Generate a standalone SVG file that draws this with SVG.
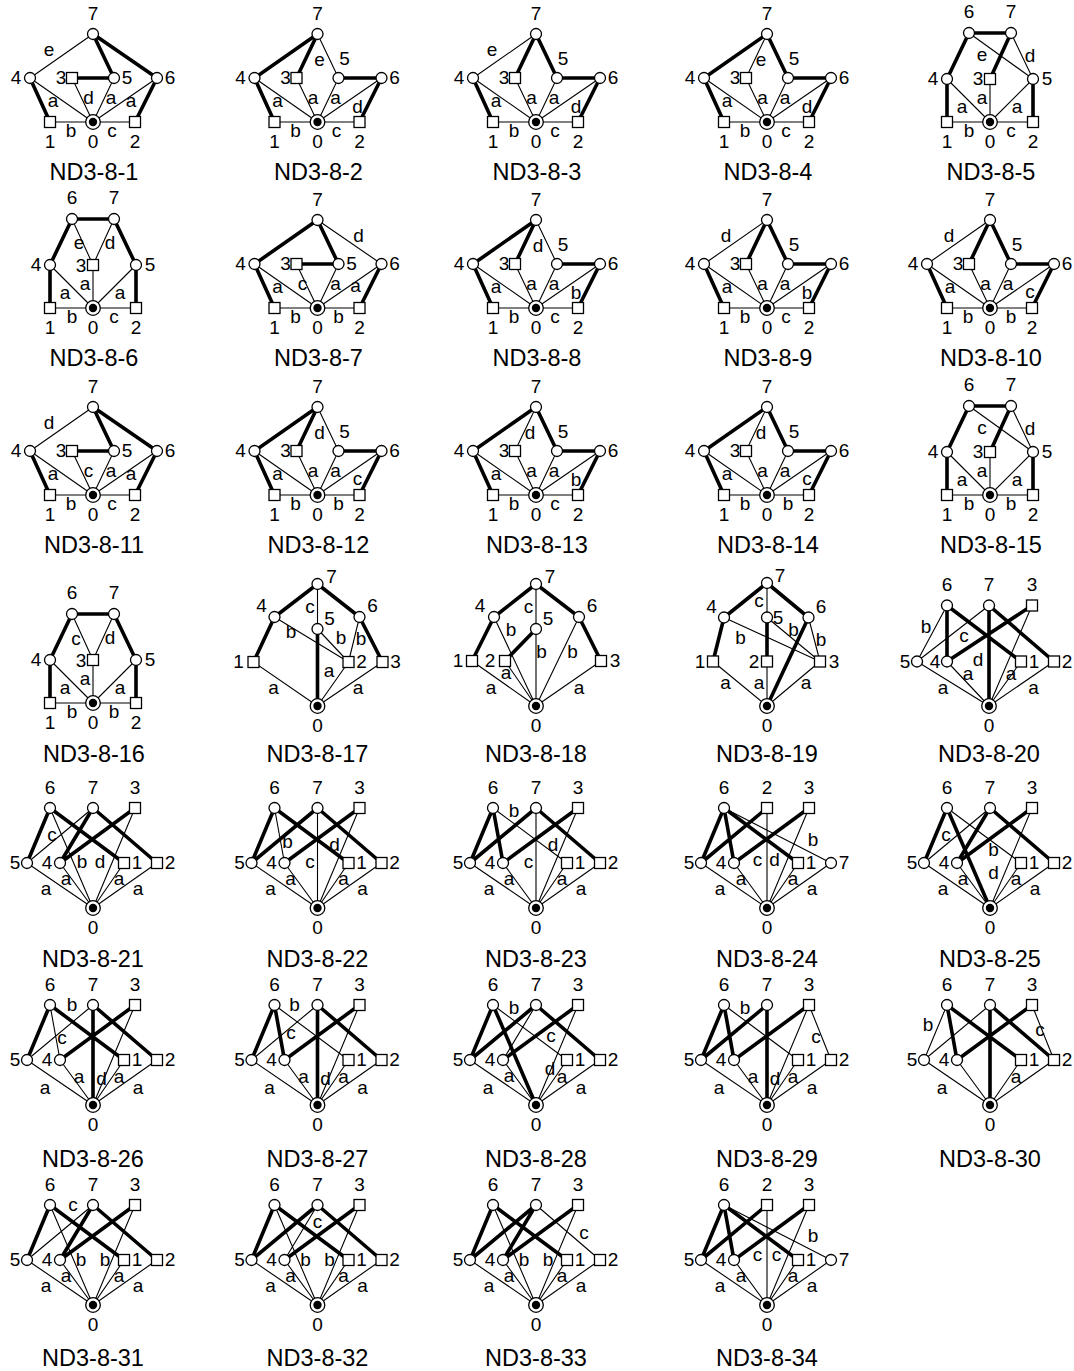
<svg xmlns="http://www.w3.org/2000/svg" width="1074" height="1371" viewBox="0 0 1074 1371">
<style>
.t{fill:none;stroke:#000;stroke-width:1.1}
.k{fill:none;stroke:#000;stroke-width:3.6}
.n{fill:#fff;stroke:#000;stroke-width:1.3}
text{font-family:"Liberation Sans",Arial,Helvetica,sans-serif;font-size:19px;text-anchor:middle;fill:#000}
text.ttl{font-size:23.5px}
</style>
<defs>
<circle id="c" class="n" r="5.5"/>
<rect id="s" class="n" x="-5.5" y="-5.5" width="11" height="11"/>
<g id="r"><circle class="n" r="7.3"/><circle r="4.2" fill="#000"/></g>
</defs>
<rect width="1074" height="1371" fill="#fff"/>

<!-- G1 -->
<g id="g1" transform="translate(93,122)">
<g id="g1-edges"><path class="t" d="M0-88L-63-44M-63-44L0 0M-21-44L0 0M21-44L0 0M64-44L0 0M-43 0L42 0"/><path class="k" d="M0-88L21-44M0-88L64-44M-21-44L21-44M-63-44L-43 0M64-44L42 0"/></g>
<g><text x="-44" y="-66.5">e</text><text x="-40" y="-15">a</text><text x="-4.5" y="-18">d</text><text x="18" y="-18">a</text><text x="38" y="-15">a</text><text x="-22" y="15">b</text><text x="19" y="15">c</text></g>
<g id="n1-0"><use href="#r"/><text y="26">0</text></g>
<g id="n1-1"><use href="#s" x="-43"/><text x="-43" y="26">1</text></g>
<g id="n1-2"><use href="#s" x="42"/><text x="42" y="26">2</text></g>
<g id="n1-3"><use href="#s" x="-21" y="-44"/><text x="-32" y="-38">3</text></g>
<g id="n1-4"><use href="#c" x="-63" y="-44"/><text x="-77" y="-38">4</text></g>
<g id="n1-5"><use href="#c" x="21" y="-44"/><text x="34" y="-38">5</text></g>
<g id="n1-6"><use href="#c" x="64" y="-44"/><text x="77" y="-38">6</text></g>
<g id="n1-7"><use href="#c" y="-88"/><text y="-102">7</text></g>
<text class="ttl" x="1" y="58">ND3-8-1</text>
</g>

<!-- G2 -->
<g id="g2" transform="translate(317.5,122)">
<g id="g2-edges"><path class="t" d="M0-88L21-44M-63-44L0 0M-21-44L0 0M21-44L0 0M64-44L0 0M-43 0L42 0"/><path class="k" d="M0-88L-63-44M0-88L-21-44M21-44L64-44M-63-44L-43 0M64-44L42 0"/></g>
<g><text x="2" y="-56">e</text><text x="-40" y="-15">a</text><text x="-4.5" y="-18">a</text><text x="18" y="-18">a</text><text x="40" y="-9">d</text><text x="-22" y="15">b</text><text x="19" y="15">c</text></g>
<g id="n2-0"><use href="#r"/><text y="26">0</text></g>
<g id="n2-1"><use href="#s" x="-43"/><text x="-43" y="26">1</text></g>
<g id="n2-2"><use href="#s" x="42"/><text x="42" y="26">2</text></g>
<g id="n2-3"><use href="#s" x="-21" y="-44"/><text x="-32" y="-38">3</text></g>
<g id="n2-4"><use href="#c" x="-63" y="-44"/><text x="-77" y="-38">4</text></g>
<g id="n2-5"><use href="#c" x="21" y="-44"/><text x="27" y="-57">5</text></g>
<g id="n2-6"><use href="#c" x="64" y="-44"/><text x="77" y="-38">6</text></g>
<g id="n2-7"><use href="#c" y="-88"/><text y="-102">7</text></g>
<text class="ttl" x="1" y="58">ND3-8-2</text>
</g>

<!-- G3 -->
<g id="g3" transform="translate(536,122)">
<g id="g3-edges"><path class="t" d="M0-88L-63-44M-63-44L0 0M-21-44L0 0M21-44L0 0M64-44L0 0M-43 0L42 0"/><path class="k" d="M0-88L-21-44M0-88L21-44M21-44L64-44M-63-44L-43 0M64-44L42 0"/></g>
<g><text x="-44" y="-66.5">e</text><text x="-40" y="-15">a</text><text x="-4.5" y="-18">a</text><text x="18" y="-18">a</text><text x="40" y="-9">d</text><text x="-22" y="15">b</text><text x="19" y="15">c</text></g>
<g id="n3-0"><use href="#r"/><text y="26">0</text></g>
<g id="n3-1"><use href="#s" x="-43"/><text x="-43" y="26">1</text></g>
<g id="n3-2"><use href="#s" x="42"/><text x="42" y="26">2</text></g>
<g id="n3-3"><use href="#s" x="-21" y="-44"/><text x="-32" y="-38">3</text></g>
<g id="n3-4"><use href="#c" x="-63" y="-44"/><text x="-77" y="-38">4</text></g>
<g id="n3-5"><use href="#c" x="21" y="-44"/><text x="27" y="-57">5</text></g>
<g id="n3-6"><use href="#c" x="64" y="-44"/><text x="77" y="-38">6</text></g>
<g id="n3-7"><use href="#c" y="-88"/><text y="-102">7</text></g>
<text class="ttl" x="1" y="58">ND3-8-3</text>
</g>

<!-- G4 -->
<g id="g4" transform="translate(767,122)">
<g id="g4-edges"><path class="t" d="M0-88L-21-44M-63-44L0 0M-21-44L0 0M21-44L0 0M64-44L0 0M-43 0L42 0"/><path class="k" d="M0-88L-63-44M0-88L21-44M21-44L64-44M-63-44L-43 0M64-44L42 0"/></g>
<g><text x="-6" y="-56">e</text><text x="-40" y="-15">a</text><text x="-4.5" y="-18">a</text><text x="18" y="-18">a</text><text x="40" y="-9">d</text><text x="-22" y="15">b</text><text x="19" y="15">c</text></g>
<g id="n4-0"><use href="#r"/><text y="26">0</text></g>
<g id="n4-1"><use href="#s" x="-43"/><text x="-43" y="26">1</text></g>
<g id="n4-2"><use href="#s" x="42"/><text x="42" y="26">2</text></g>
<g id="n4-3"><use href="#s" x="-21" y="-44"/><text x="-32" y="-38">3</text></g>
<g id="n4-4"><use href="#c" x="-63" y="-44"/><text x="-77" y="-38">4</text></g>
<g id="n4-5"><use href="#c" x="21" y="-44"/><text x="27" y="-57">5</text></g>
<g id="n4-6"><use href="#c" x="64" y="-44"/><text x="77" y="-38">6</text></g>
<g id="n4-7"><use href="#c" y="-88"/><text y="-102">7</text></g>
<text class="ttl" x="1" y="58">ND3-8-4</text>
</g>

<!-- G5 -->
<g id="g5" transform="translate(990,122)">
<g id="g5-edges"><path class="t" d="M-21-89L43-43M21-89L43-43M-43-43L0 0M0-43L0 0M43-43L0 0M-43 0L43 0"/><path class="k" d="M-21-89L21-89M-21-89L-43-43M21-89L0-43M-43-43L-43 0M43-43L43 0"/></g>
<g><text x="-8" y="-61.5">e</text><text x="40" y="-60">d</text><text x="-28" y="-9.5">a</text><text x="-8" y="-18">a</text><text x="27" y="-9.5">a</text><text x="-21" y="15">b</text><text x="21" y="15">c</text></g>
<g id="n5-0"><use href="#r"/><text y="26">0</text></g>
<g id="n5-1"><use href="#s" x="-43"/><text x="-43" y="26">1</text></g>
<g id="n5-2"><use href="#s" x="43"/><text x="43" y="26">2</text></g>
<g id="n5-3"><use href="#s" y="-43"/><text x="-12" y="-37">3</text></g>
<g id="n5-4"><use href="#c" x="-43" y="-43"/><text x="-57" y="-37">4</text></g>
<g id="n5-5"><use href="#c" x="43" y="-43"/><text x="57" y="-37">5</text></g>
<g id="n5-6"><use href="#c" x="-21" y="-89"/><text x="-21" y="-104">6</text></g>
<g id="n5-7"><use href="#c" x="21" y="-89"/><text x="21" y="-104">7</text></g>
<text class="ttl" x="1" y="58">ND3-8-5</text>
</g>

<!-- G6 -->
<g id="g6" transform="translate(93,308)">
<g id="g6-edges"><path class="t" d="M-21-89L0-43M21-89L0-43M-43-43L0 0M0-43L0 0M43-43L0 0M-43 0L43 0"/><path class="k" d="M-21-89L21-89M-21-89L-43-43M21-89L43-43M-43-43L-43 0M43-43L43 0"/></g>
<g><text x="-14" y="-59">e</text><text x="17" y="-59">d</text><text x="-28" y="-9.5">a</text><text x="-8" y="-18">a</text><text x="27" y="-9.5">a</text><text x="-21" y="15">b</text><text x="21" y="15">c</text></g>
<g id="n6-0"><use href="#r"/><text y="26">0</text></g>
<g id="n6-1"><use href="#s" x="-43"/><text x="-43" y="26">1</text></g>
<g id="n6-2"><use href="#s" x="43"/><text x="43" y="26">2</text></g>
<g id="n6-3"><use href="#s" y="-43"/><text x="-12" y="-36">3</text></g>
<g id="n6-4"><use href="#c" x="-43" y="-43"/><text x="-57" y="-37">4</text></g>
<g id="n6-5"><use href="#c" x="43" y="-43"/><text x="57" y="-37">5</text></g>
<g id="n6-6"><use href="#c" x="-21" y="-89"/><text x="-21" y="-104">6</text></g>
<g id="n6-7"><use href="#c" x="21" y="-89"/><text x="21" y="-104">7</text></g>
<text class="ttl" x="1" y="58">ND3-8-6</text>
</g>

<!-- G7 -->
<g id="g7" transform="translate(317.5,308)">
<g id="g7-edges"><path class="t" d="M0-88L64-44M-63-44L0 0M-21-44L0 0M21-44L0 0M64-44L0 0M-43 0L42 0"/><path class="k" d="M0-88L-63-44M0-88L21-44M-21-44L21-44M-63-44L-43 0M64-44L42 0"/></g>
<g><text x="41" y="-66.5">d</text><text x="-40" y="-15">a</text><text x="-15" y="-18">c</text><text x="18" y="-18">a</text><text x="38" y="-16">a</text><text x="-22" y="15">b</text><text x="21" y="15">b</text></g>
<g id="n7-0"><use href="#r"/><text y="26">0</text></g>
<g id="n7-1"><use href="#s" x="-43"/><text x="-43" y="26">1</text></g>
<g id="n7-2"><use href="#s" x="42"/><text x="42" y="26">2</text></g>
<g id="n7-3"><use href="#s" x="-21" y="-44"/><text x="-32" y="-38">3</text></g>
<g id="n7-4"><use href="#c" x="-63" y="-44"/><text x="-77" y="-38">4</text></g>
<g id="n7-5"><use href="#c" x="21" y="-44"/><text x="34" y="-38">5</text></g>
<g id="n7-6"><use href="#c" x="64" y="-44"/><text x="77" y="-38">6</text></g>
<g id="n7-7"><use href="#c" y="-88"/><text y="-102">7</text></g>
<text class="ttl" x="1" y="58">ND3-8-7</text>
</g>

<!-- G8 -->
<g id="g8" transform="translate(536,308)">
<g id="g8-edges"><path class="t" d="M0-88L21-44M-63-44L0 0M-21-44L0 0M21-44L0 0M64-44L0 0M-43 0L42 0"/><path class="k" d="M0-88L-63-44M0-88L-21-44M21-44L64-44M-63-44L-43 0M64-44L42 0"/></g>
<g><text x="2" y="-56">d</text><text x="-40" y="-15">a</text><text x="-4.5" y="-18">a</text><text x="18" y="-18">a</text><text x="40" y="-9">b</text><text x="-22" y="15">b</text><text x="19" y="15">c</text></g>
<g id="n8-0"><use href="#r"/><text y="26">0</text></g>
<g id="n8-1"><use href="#s" x="-43"/><text x="-43" y="26">1</text></g>
<g id="n8-2"><use href="#s" x="42"/><text x="42" y="26">2</text></g>
<g id="n8-3"><use href="#s" x="-21" y="-44"/><text x="-32" y="-38">3</text></g>
<g id="n8-4"><use href="#c" x="-63" y="-44"/><text x="-77" y="-38">4</text></g>
<g id="n8-5"><use href="#c" x="21" y="-44"/><text x="27" y="-57">5</text></g>
<g id="n8-6"><use href="#c" x="64" y="-44"/><text x="77" y="-38">6</text></g>
<g id="n8-7"><use href="#c" y="-88"/><text y="-102">7</text></g>
<text class="ttl" x="1" y="58">ND3-8-8</text>
</g>

<!-- G9 -->
<g id="g9" transform="translate(767,308)">
<g id="g9-edges"><path class="t" d="M0-88L-63-44M-63-44L0 0M-21-44L0 0M21-44L0 0M64-44L0 0M-43 0L42 0"/><path class="k" d="M0-88L-21-44M0-88L21-44M21-44L64-44M-63-44L-43 0M64-44L42 0"/></g>
<g><text x="-41" y="-66.5">d</text><text x="-40" y="-15">a</text><text x="-4.5" y="-18">a</text><text x="18" y="-18">a</text><text x="40" y="-9">b</text><text x="-22" y="15">b</text><text x="19" y="15">c</text></g>
<g id="n9-0"><use href="#r"/><text y="26">0</text></g>
<g id="n9-1"><use href="#s" x="-43"/><text x="-43" y="26">1</text></g>
<g id="n9-2"><use href="#s" x="42"/><text x="42" y="26">2</text></g>
<g id="n9-3"><use href="#s" x="-21" y="-44"/><text x="-32" y="-38">3</text></g>
<g id="n9-4"><use href="#c" x="-63" y="-44"/><text x="-77" y="-38">4</text></g>
<g id="n9-5"><use href="#c" x="21" y="-44"/><text x="27" y="-57">5</text></g>
<g id="n9-6"><use href="#c" x="64" y="-44"/><text x="77" y="-38">6</text></g>
<g id="n9-7"><use href="#c" y="-88"/><text y="-102">7</text></g>
<text class="ttl" x="1" y="58">ND3-8-9</text>
</g>

<!-- G10 -->
<g id="g10" transform="translate(990,308)">
<g id="g10-edges"><path class="t" d="M0-88L-63-44M-63-44L0 0M-21-44L0 0M21-44L0 0M64-44L0 0M-43 0L42 0"/><path class="k" d="M0-88L-21-44M0-88L21-44M21-44L64-44M-63-44L-43 0M64-44L42 0"/></g>
<g><text x="-41" y="-66.5">d</text><text x="-40" y="-15">a</text><text x="-4.5" y="-18">a</text><text x="18" y="-18">a</text><text x="40" y="-10">c</text><text x="-22" y="15">b</text><text x="21" y="15">b</text></g>
<g id="n10-0"><use href="#r"/><text y="26">0</text></g>
<g id="n10-1"><use href="#s" x="-43"/><text x="-43" y="26">1</text></g>
<g id="n10-2"><use href="#s" x="42"/><text x="42" y="26">2</text></g>
<g id="n10-3"><use href="#s" x="-21" y="-44"/><text x="-32" y="-38">3</text></g>
<g id="n10-4"><use href="#c" x="-63" y="-44"/><text x="-77" y="-38">4</text></g>
<g id="n10-5"><use href="#c" x="21" y="-44"/><text x="27" y="-57">5</text></g>
<g id="n10-6"><use href="#c" x="64" y="-44"/><text x="77" y="-38">6</text></g>
<g id="n10-7"><use href="#c" y="-88"/><text y="-102">7</text></g>
<text class="ttl" x="1" y="58">ND3-8-10</text>
</g>

<!-- G11 -->
<g id="g11" transform="translate(93,495)">
<g id="g11-edges"><path class="t" d="M0-88L-63-44M-63-44L0 0M-21-44L0 0M21-44L0 0M64-44L0 0M-43 0L42 0"/><path class="k" d="M0-88L21-44M0-88L64-44M-21-44L21-44M-63-44L-43 0M64-44L42 0"/></g>
<g><text x="-44" y="-66.5">d</text><text x="-40" y="-15">a</text><text x="-4.5" y="-18">c</text><text x="18" y="-18">a</text><text x="38" y="-15">a</text><text x="-22" y="15">b</text><text x="19" y="15">c</text></g>
<g id="n11-0"><use href="#r"/><text y="26">0</text></g>
<g id="n11-1"><use href="#s" x="-43"/><text x="-43" y="26">1</text></g>
<g id="n11-2"><use href="#s" x="42"/><text x="42" y="26">2</text></g>
<g id="n11-3"><use href="#s" x="-21" y="-44"/><text x="-32" y="-38">3</text></g>
<g id="n11-4"><use href="#c" x="-63" y="-44"/><text x="-77" y="-38">4</text></g>
<g id="n11-5"><use href="#c" x="21" y="-44"/><text x="34" y="-38">5</text></g>
<g id="n11-6"><use href="#c" x="64" y="-44"/><text x="77" y="-38">6</text></g>
<g id="n11-7"><use href="#c" y="-88"/><text y="-102">7</text></g>
<text class="ttl" x="1" y="58">ND3-8-11</text>
</g>

<!-- G12 -->
<g id="g12" transform="translate(317.5,495)">
<g id="g12-edges"><path class="t" d="M0-88L21-44M-63-44L0 0M-21-44L0 0M21-44L0 0M64-44L0 0M-43 0L42 0"/><path class="k" d="M0-88L-63-44M0-88L-21-44M21-44L64-44M-63-44L-43 0M64-44L42 0"/></g>
<g><text x="2" y="-56">d</text><text x="-40" y="-15">a</text><text x="-4.5" y="-18">a</text><text x="18" y="-18">a</text><text x="40" y="-10">c</text><text x="-22" y="15">b</text><text x="21" y="15">b</text></g>
<g id="n12-0"><use href="#r"/><text y="26">0</text></g>
<g id="n12-1"><use href="#s" x="-43"/><text x="-43" y="26">1</text></g>
<g id="n12-2"><use href="#s" x="42"/><text x="42" y="26">2</text></g>
<g id="n12-3"><use href="#s" x="-21" y="-44"/><text x="-32" y="-38">3</text></g>
<g id="n12-4"><use href="#c" x="-63" y="-44"/><text x="-77" y="-38">4</text></g>
<g id="n12-5"><use href="#c" x="21" y="-44"/><text x="27" y="-57">5</text></g>
<g id="n12-6"><use href="#c" x="64" y="-44"/><text x="77" y="-38">6</text></g>
<g id="n12-7"><use href="#c" y="-88"/><text y="-102">7</text></g>
<text class="ttl" x="1" y="58">ND3-8-12</text>
</g>

<!-- G13 -->
<g id="g13" transform="translate(536,495)">
<g id="g13-edges"><path class="t" d="M0-88L-21-44M-63-44L0 0M-21-44L0 0M21-44L0 0M64-44L0 0M-43 0L42 0"/><path class="k" d="M0-88L-63-44M0-88L21-44M21-44L64-44M-63-44L-43 0M64-44L42 0"/></g>
<g><text x="-6" y="-56">d</text><text x="-40" y="-15">a</text><text x="-4.5" y="-18">a</text><text x="18" y="-18">a</text><text x="40" y="-9">b</text><text x="-22" y="15">b</text><text x="19" y="15">c</text></g>
<g id="n13-0"><use href="#r"/><text y="26">0</text></g>
<g id="n13-1"><use href="#s" x="-43"/><text x="-43" y="26">1</text></g>
<g id="n13-2"><use href="#s" x="42"/><text x="42" y="26">2</text></g>
<g id="n13-3"><use href="#s" x="-21" y="-44"/><text x="-32" y="-38">3</text></g>
<g id="n13-4"><use href="#c" x="-63" y="-44"/><text x="-77" y="-38">4</text></g>
<g id="n13-5"><use href="#c" x="21" y="-44"/><text x="27" y="-57">5</text></g>
<g id="n13-6"><use href="#c" x="64" y="-44"/><text x="77" y="-38">6</text></g>
<g id="n13-7"><use href="#c" y="-88"/><text y="-102">7</text></g>
<text class="ttl" x="1" y="58">ND3-8-13</text>
</g>

<!-- G14 -->
<g id="g14" transform="translate(767,495)">
<g id="g14-edges"><path class="t" d="M0-88L-21-44M-63-44L0 0M-21-44L0 0M21-44L0 0M64-44L0 0M-43 0L42 0"/><path class="k" d="M0-88L-63-44M0-88L21-44M21-44L64-44M-63-44L-43 0M64-44L42 0"/></g>
<g><text x="-6" y="-56">d</text><text x="-40" y="-15">a</text><text x="-4.5" y="-18">a</text><text x="18" y="-18">a</text><text x="40" y="-10">c</text><text x="-22" y="15">b</text><text x="21" y="15">b</text></g>
<g id="n14-0"><use href="#r"/><text y="26">0</text></g>
<g id="n14-1"><use href="#s" x="-43"/><text x="-43" y="26">1</text></g>
<g id="n14-2"><use href="#s" x="42"/><text x="42" y="26">2</text></g>
<g id="n14-3"><use href="#s" x="-21" y="-44"/><text x="-32" y="-38">3</text></g>
<g id="n14-4"><use href="#c" x="-63" y="-44"/><text x="-77" y="-38">4</text></g>
<g id="n14-5"><use href="#c" x="21" y="-44"/><text x="27" y="-57">5</text></g>
<g id="n14-6"><use href="#c" x="64" y="-44"/><text x="77" y="-38">6</text></g>
<g id="n14-7"><use href="#c" y="-88"/><text y="-102">7</text></g>
<text class="ttl" x="1" y="58">ND3-8-14</text>
</g>

<!-- G15 -->
<g id="g15" transform="translate(990,495)">
<g id="g15-edges"><path class="t" d="M-21-89L43-43M21-89L43-43M-43-43L0 0M0-43L0 0M43-43L0 0M-43 0L43 0"/><path class="k" d="M-21-89L21-89M-21-89L-43-43M21-89L0-43M-43-43L-43 0M43-43L43 0"/></g>
<g><text x="-8" y="-61.5">c</text><text x="40" y="-60">d</text><text x="-28" y="-9.5">a</text><text x="-8" y="-18">a</text><text x="27" y="-9.5">a</text><text x="-21" y="15">b</text><text x="21" y="15">b</text></g>
<g id="n15-0"><use href="#r"/><text y="26">0</text></g>
<g id="n15-1"><use href="#s" x="-43"/><text x="-43" y="26">1</text></g>
<g id="n15-2"><use href="#s" x="43"/><text x="43" y="26">2</text></g>
<g id="n15-3"><use href="#s" y="-43"/><text x="-12" y="-37">3</text></g>
<g id="n15-4"><use href="#c" x="-43" y="-43"/><text x="-57" y="-37">4</text></g>
<g id="n15-5"><use href="#c" x="43" y="-43"/><text x="57" y="-37">5</text></g>
<g id="n15-6"><use href="#c" x="-21" y="-89"/><text x="-21" y="-104">6</text></g>
<g id="n15-7"><use href="#c" x="21" y="-89"/><text x="21" y="-104">7</text></g>
<text class="ttl" x="1" y="58">ND3-8-15</text>
</g>

<!-- G16 -->
<g id="g16" transform="translate(93,703)">
<g id="g16-edges"><path class="t" d="M-21-89L0-43M21-89L0-43M-43-43L0 0M0-43L0 0M43-43L0 0M-43 0L43 0"/><path class="k" d="M-21-89L21-89M-21-89L-43-43M21-89L43-43M-43-43L-43 0M43-43L43 0"/></g>
<g><text x="-17" y="-58">c</text><text x="17" y="-59">d</text><text x="-28" y="-9.5">a</text><text x="-8" y="-18">a</text><text x="27" y="-9.5">a</text><text x="-21" y="15">b</text><text x="21" y="15">b</text></g>
<g id="n16-0"><use href="#r"/><text y="26">0</text></g>
<g id="n16-1"><use href="#s" x="-43"/><text x="-43" y="26">1</text></g>
<g id="n16-2"><use href="#s" x="43"/><text x="43" y="26">2</text></g>
<g id="n16-3"><use href="#s" y="-43"/><text x="-12" y="-36">3</text></g>
<g id="n16-4"><use href="#c" x="-43" y="-43"/><text x="-57" y="-37">4</text></g>
<g id="n16-5"><use href="#c" x="43" y="-43"/><text x="57" y="-37">5</text></g>
<g id="n16-6"><use href="#c" x="-21" y="-89"/><text x="-21" y="-104">6</text></g>
<g id="n16-7"><use href="#c" x="21" y="-89"/><text x="21" y="-104">7</text></g>
<text class="ttl" x="1" y="59">ND3-8-16</text>
</g>

<!-- G17 -->
<g id="g17" transform="translate(317.5,706)">
<g id="g17-edges"><path class="t" d="M0-122L0-77M-43-89L31-44M0-77L31-44M42-89L31-44M-64-44L0 0M31-44L0 0M65-44L0 0"/><path class="k" d="M0-122L-43-89M0-122L42-89M-43-89L-64-44M42-89L65-44M0-77L0 0"/></g>
<g><text x="-7.5" y="-93">c</text><text x="-26.5" y="-68">b</text><text x="23.5" y="-62.5">b</text><text x="43.5" y="-61">b</text><text x="11.5" y="-29.5">a</text><text x="-44" y="-12">a</text><text x="40.5" y="-12">a</text></g>
<g id="n17-0"><use href="#r"/><text y="26">0</text></g>
<g id="n17-1"><use href="#s" x="-64" y="-44"/><text x="-79" y="-38">1</text></g>
<g id="n17-2"><use href="#s" x="31" y="-44"/><text x="44" y="-38">2</text></g>
<g id="n17-3"><use href="#s" x="65" y="-44"/><text x="78" y="-38">3</text></g>
<g id="n17-4"><use href="#c" x="-43" y="-89"/><text x="-56" y="-94">4</text></g>
<g id="n17-5"><use href="#c" y="-77"/><text x="12" y="-81">5</text></g>
<g id="n17-6"><use href="#c" x="42" y="-89"/><text x="55" y="-94">6</text></g>
<g id="n17-7"><use href="#c" y="-122"/><text x="14" y="-123">7</text></g>
<text class="ttl" x="0" y="56">ND3-8-17</text>
</g>

<!-- G18 -->
<g id="g18" transform="translate(536,706)">
<g id="g18-edges"><path class="t" d="M0-122L0-77M-42-89L0 0M0-77L0 0M43-89L0 0M-64-45L0 0M-31-45L0 0M65-45L0 0"/><path class="k" d="M0-122L-42-89M0-122L43-89M-42-89L-64-45M0-77L-31-45M43-89L65-45"/></g>
<g><text x="-7.5" y="-93">c</text><text x="-25" y="-70">b</text><text x="5.5" y="-48.5">b</text><text x="36.5" y="-48.5">b</text><text x="-30" y="-27.5">a</text><text x="-45" y="-12">a</text><text x="43" y="-12">a</text></g>
<g id="n18-0"><use href="#r"/><text y="26">0</text></g>
<g id="n18-1"><use href="#s" x="-64" y="-45"/><text x="-78" y="-39">1</text></g>
<g id="n18-2"><use href="#s" x="-31" y="-45"/><text x="-46" y="-39">2</text></g>
<g id="n18-3"><use href="#s" x="65" y="-45"/><text x="79" y="-39">3</text></g>
<g id="n18-4"><use href="#c" x="-42" y="-89"/><text x="-56" y="-94">4</text></g>
<g id="n18-5"><use href="#c" y="-77"/><text x="12" y="-81">5</text></g>
<g id="n18-6"><use href="#c" x="43" y="-89"/><text x="56" y="-94">6</text></g>
<g id="n18-7"><use href="#c" y="-122"/><text x="14" y="-123">7</text></g>
<text class="ttl" x="0" y="56">ND3-8-18</text>
</g>

<!-- G19 -->
<g id="g19" transform="translate(767,706)">
<g id="g19-edges"><path class="t" d="M0-123L0-88.5M-43-88.5L53-44.5M0-88.5L53-44.5M41.5-88.5L53-44.5M-54-44.5L0 0M0-44.5L0 0M53-44.5L0 0"/><path class="k" d="M0-123L-43-88.5M0-123L41.5-88.5M-43-88.5L-54-44.5M0-88.5L0-44.5M41.5-88.5L0 0"/></g>
<g><text x="-8" y="-99">c</text><text x="-26.5" y="-62.5">b</text><text x="26.5" y="-70.5">b</text><text x="54" y="-60.5">b</text><text x="-41.5" y="-17.5">a</text><text x="-8" y="-17.5">a</text><text x="39" y="-17.5">a</text></g>
<g id="n19-0"><use href="#r"/><text y="26">0</text></g>
<g id="n19-1"><use href="#s" x="-54" y="-44.5"/><text x="-67" y="-38.5">1</text></g>
<g id="n19-2"><use href="#s" y="-44.5"/><text x="-13" y="-38.5">2</text></g>
<g id="n19-3"><use href="#s" x="53" y="-44.5"/><text x="67" y="-38.5">3</text></g>
<g id="n19-4"><use href="#c" x="-43" y="-88.5"/><text x="-55.5" y="-93.5">4</text></g>
<g id="n19-5"><use href="#c" y="-88.5"/><text x="11" y="-82">5</text></g>
<g id="n19-6"><use href="#c" x="41.5" y="-88.5"/><text x="54" y="-93.5">6</text></g>
<g id="n19-7"><use href="#c" y="-123"/><text x="13" y="-124">7</text></g>
<text class="ttl" x="0" y="56">ND3-8-19</text>
</g>

<!-- G20 -->
<g id="g20" transform="translate(989,706)">
<g id="g20-edges"><path class="t" d="M-42-100.5L-72-44.5M0-100.5L-72-44.5M43-100.5L0 0M-72-44.5L0 0M-42-44.5L0 0M32-44.5L0 0M65-44.5L0 0"/><path class="k" d="M-42-100.5L-42-44.5M-42-100.5L32-44.5M0-100.5L0 0M0-100.5L65-44.5M43-100.5L-42-44.5"/></g>
<g><text x="-63" y="-73">b</text><text x="-25" y="-64">c</text><text x="-11" y="-40">d</text><text x="-46" y="-12">a</text><text x="-21" y="-26">a</text><text x="22" y="-26">a</text><text x="44.5" y="-12">a</text></g>
<g id="n20-0"><use href="#r"/><text y="26">0</text></g>
<g id="n20-1"><use href="#s" x="32" y="-44.5"/><text x="45" y="-38.5">1</text></g>
<g id="n20-2"><use href="#s" x="65" y="-44.5"/><text x="78" y="-38.5">2</text></g>
<g id="n20-3"><use href="#s" x="43" y="-100.5"/><text x="43" y="-115">3</text></g>
<g id="n20-4"><use href="#c" x="-42" y="-44.5"/><text x="-54" y="-38.5">4</text></g>
<g id="n20-5"><use href="#c" x="-72" y="-44.5"/><text x="-84" y="-38.5">5</text></g>
<g id="n20-6"><use href="#c" x="-42" y="-100.5"/><text x="-42" y="-115">6</text></g>
<g id="n20-7"><use href="#c" y="-100.5"/><text y="-115">7</text></g>
<text class="ttl" x="0" y="56">ND3-8-20</text>
</g>

<!-- G21 -->
<g id="g21" transform="translate(93,908)">
<g id="g21-edges"><path class="t" d="M-43-100L0 0M0-100L-66-45M42-100L0 0M-66-45L0 0M-33-45L0 0M31-45L0 0M64-45L0 0"/><path class="k" d="M-43-100L-66-45M-43-100L31-45M0-100L-33-45M0-100L64-45M42-100L-33-45"/></g>
<g><text x="-41" y="-67">c</text><text x="-11" y="-40">b</text><text x="7" y="-40">d</text><text x="-47" y="-13">a</text><text x="-27" y="-23">a</text><text x="26" y="-23">a</text><text x="45" y="-13">a</text></g>
<g id="n21-0"><use href="#r"/><text y="26">0</text></g>
<g id="n21-1"><use href="#s" x="31" y="-45"/><text x="44" y="-39">1</text></g>
<g id="n21-2"><use href="#s" x="64" y="-45"/><text x="77" y="-39">2</text></g>
<g id="n21-3"><use href="#s" x="42" y="-100"/><text x="42" y="-114">3</text></g>
<g id="n21-4"><use href="#c" x="-33" y="-45"/><text x="-46" y="-39">4</text></g>
<g id="n21-5"><use href="#c" x="-66" y="-45"/><text x="-78" y="-39">5</text></g>
<g id="n21-6"><use href="#c" x="-43" y="-100"/><text x="-43" y="-114">6</text></g>
<g id="n21-7"><use href="#c" y="-100"/><text y="-114">7</text></g>
<text class="ttl" x="0" y="59">ND3-8-21</text>
</g>

<!-- G22 -->
<g id="g22" transform="translate(317.5,908)">
<g id="g22-edges"><path class="t" d="M-43-100L-33-45M0-100L0 0M42-100L0 0M-66-45L0 0M-33-45L0 0M31-45L0 0M64-45L0 0"/><path class="k" d="M-43-100L-66-45M-43-100L31-45M0-100L-66-45M0-100L64-45M42-100L-33-45"/></g>
<g><text x="-30" y="-60">b</text><text x="-7.5" y="-40">c</text><text x="17" y="-57">d</text><text x="-47" y="-13">a</text><text x="-27" y="-23">a</text><text x="26" y="-23">a</text><text x="45" y="-13">a</text></g>
<g id="n22-0"><use href="#r"/><text y="26">0</text></g>
<g id="n22-1"><use href="#s" x="31" y="-45"/><text x="44" y="-39">1</text></g>
<g id="n22-2"><use href="#s" x="64" y="-45"/><text x="77" y="-39">2</text></g>
<g id="n22-3"><use href="#s" x="42" y="-100"/><text x="42" y="-114">3</text></g>
<g id="n22-4"><use href="#c" x="-33" y="-45"/><text x="-46" y="-39">4</text></g>
<g id="n22-5"><use href="#c" x="-66" y="-45"/><text x="-78" y="-39">5</text></g>
<g id="n22-6"><use href="#c" x="-43" y="-100"/><text x="-43" y="-114">6</text></g>
<g id="n22-7"><use href="#c" y="-100"/><text y="-114">7</text></g>
<text class="ttl" x="0" y="59">ND3-8-22</text>
</g>

<!-- G23 -->
<g id="g23" transform="translate(536,908)">
<g id="g23-edges"><path class="t" d="M-43-100L31-45M0-100L0 0M42-100L0 0M-66-45L0 0M-33-45L0 0M31-45L0 0M64-45L0 0"/><path class="k" d="M-43-100L-66-45M-43-100L-33-45M0-100L-66-45M0-100L64-45M42-100L-33-45"/></g>
<g><text x="-22" y="-91">b</text><text x="-7.5" y="-40">c</text><text x="17" y="-57">d</text><text x="-47" y="-13">a</text><text x="-27" y="-23">a</text><text x="26" y="-23">a</text><text x="45" y="-13">a</text></g>
<g id="n23-0"><use href="#r"/><text y="26">0</text></g>
<g id="n23-1"><use href="#s" x="31" y="-45"/><text x="44" y="-39">1</text></g>
<g id="n23-2"><use href="#s" x="64" y="-45"/><text x="77" y="-39">2</text></g>
<g id="n23-3"><use href="#s" x="42" y="-100"/><text x="42" y="-114">3</text></g>
<g id="n23-4"><use href="#c" x="-33" y="-45"/><text x="-46" y="-39">4</text></g>
<g id="n23-5"><use href="#c" x="-66" y="-45"/><text x="-78" y="-39">5</text></g>
<g id="n23-6"><use href="#c" x="-43" y="-100"/><text x="-43" y="-114">6</text></g>
<g id="n23-7"><use href="#c" y="-100"/><text y="-114">7</text></g>
<text class="ttl" x="0" y="59">ND3-8-23</text>
</g>

<!-- G24 -->
<g id="g24" transform="translate(767,908)">
<g id="g24-edges"><path class="t" d="M-43-100L64-45M0-100L0 0M42-100L0 0M-66-45L0 0M-33-45L0 0M31-45L0 0M64-45L0 0"/><path class="k" d="M-43-100L-66-45M-43-100L-33-45M-43-100L31-45M0-100L-66-45M42-100L-33-45"/></g>
<g><text x="46" y="-62">b</text><text x="-9.5" y="-42">c</text><text x="7.5" y="-42">d</text><text x="-47" y="-13">a</text><text x="-26" y="-23">a</text><text x="26" y="-23">a</text><text x="45" y="-13">a</text></g>
<g id="n24-0"><use href="#r"/><text y="26">0</text></g>
<g id="n24-1"><use href="#s" x="31" y="-45"/><text x="44" y="-39">1</text></g>
<g id="n24-2"><use href="#s" y="-100"/><text y="-114">2</text></g>
<g id="n24-3"><use href="#s" x="42" y="-100"/><text x="42" y="-114">3</text></g>
<g id="n24-4"><use href="#c" x="-33" y="-45"/><text x="-46" y="-39">4</text></g>
<g id="n24-5"><use href="#c" x="-66" y="-45"/><text x="-78" y="-39">5</text></g>
<g id="n24-6"><use href="#c" x="-43" y="-100"/><text x="-43" y="-114">6</text></g>
<g id="n24-7"><use href="#c" x="64" y="-45"/><text x="77" y="-39">7</text></g>
<text class="ttl" x="0" y="59">ND3-8-24</text>
</g>

<!-- G25 -->
<g id="g25" transform="translate(990,908)">
<g id="g25-edges"><path class="t" d="M-43-100L31-45M0-100L-66-45M42-100L0 0M-66-45L0 0M-33-45L0 0M31-45L0 0M64-45L0 0"/><path class="k" d="M-43-100L-66-45M-43-100L0 0M0-100L-33-45M0-100L64-45M42-100L-33-45"/></g>
<g><text x="-44" y="-67">c</text><text x="3.5" y="-52">b</text><text x="3.5" y="-29.5">d</text><text x="-47" y="-13">a</text><text x="-27" y="-23">a</text><text x="26" y="-23">a</text><text x="45" y="-13">a</text></g>
<g id="n25-0"><use href="#r"/><text y="26">0</text></g>
<g id="n25-1"><use href="#s" x="31" y="-45"/><text x="44" y="-39">1</text></g>
<g id="n25-2"><use href="#s" x="64" y="-45"/><text x="77" y="-39">2</text></g>
<g id="n25-3"><use href="#s" x="42" y="-100"/><text x="42" y="-114">3</text></g>
<g id="n25-4"><use href="#c" x="-33" y="-45"/><text x="-46" y="-39">4</text></g>
<g id="n25-5"><use href="#c" x="-66" y="-45"/><text x="-78" y="-39">5</text></g>
<g id="n25-6"><use href="#c" x="-43" y="-100"/><text x="-43" y="-114">6</text></g>
<g id="n25-7"><use href="#c" y="-100"/><text y="-114">7</text></g>
<text class="ttl" x="0" y="59">ND3-8-25</text>
</g>

<!-- G26 -->
<g id="g26" transform="translate(93,1105)">
<g id="g26-edges"><path class="t" d="M-43-100L-33-45M0-100L-66-45M42-100L0 0M-66-45L0 0M-33-45L0 0M31-45L0 0M64-45L0 0"/><path class="k" d="M-43-100L-66-45M-43-100L31-45M0-100L0 0M0-100L64-45M42-100L-33-45"/></g>
<g><text x="-21" y="-94">b</text><text x="-31" y="-61">c</text><text x="8.5" y="-20">d</text><text x="-48" y="-11">a</text><text x="-14" y="-22">a</text><text x="26" y="-22">a</text><text x="45" y="-11">a</text></g>
<g id="n26-0"><use href="#r"/><text y="26">0</text></g>
<g id="n26-1"><use href="#s" x="31" y="-45"/><text x="44" y="-39">1</text></g>
<g id="n26-2"><use href="#s" x="64" y="-45"/><text x="77" y="-39">2</text></g>
<g id="n26-3"><use href="#s" x="42" y="-100"/><text x="42" y="-114">3</text></g>
<g id="n26-4"><use href="#c" x="-33" y="-45"/><text x="-46" y="-39">4</text></g>
<g id="n26-5"><use href="#c" x="-66" y="-45"/><text x="-78" y="-39">5</text></g>
<g id="n26-6"><use href="#c" x="-43" y="-100"/><text x="-43" y="-114">6</text></g>
<g id="n26-7"><use href="#c" y="-100"/><text y="-114">7</text></g>
<text class="ttl" x="0" y="62">ND3-8-26</text>
</g>

<!-- G27 -->
<g id="g27" transform="translate(317.5,1105)">
<g id="g27-edges"><path class="t" d="M-43-100L31-45M0-100L-66-45M42-100L0 0M-66-45L0 0M-33-45L0 0M31-45L0 0M64-45L0 0"/><path class="k" d="M-43-100L-66-45M-43-100L-33-45M0-100L0 0M0-100L64-45M42-100L-33-45"/></g>
<g><text x="-23" y="-94">b</text><text x="-26.5" y="-66">c</text><text x="8" y="-20">d</text><text x="-48" y="-11">a</text><text x="-14" y="-22">a</text><text x="26" y="-22">a</text><text x="45" y="-11">a</text></g>
<g id="n27-0"><use href="#r"/><text y="26">0</text></g>
<g id="n27-1"><use href="#s" x="31" y="-45"/><text x="44" y="-39">1</text></g>
<g id="n27-2"><use href="#s" x="64" y="-45"/><text x="77" y="-39">2</text></g>
<g id="n27-3"><use href="#s" x="42" y="-100"/><text x="42" y="-114">3</text></g>
<g id="n27-4"><use href="#c" x="-33" y="-45"/><text x="-46" y="-39">4</text></g>
<g id="n27-5"><use href="#c" x="-66" y="-45"/><text x="-78" y="-39">5</text></g>
<g id="n27-6"><use href="#c" x="-43" y="-100"/><text x="-43" y="-114">6</text></g>
<g id="n27-7"><use href="#c" y="-100"/><text y="-114">7</text></g>
<text class="ttl" x="0" y="62">ND3-8-27</text>
</g>

<!-- G28 -->
<g id="g28" transform="translate(536,1105)">
<g id="g28-edges"><path class="t" d="M-43-100L31-45M0-100L-33-45M42-100L0 0M-66-45L0 0M-33-45L0 0M31-45L0 0M64-45L0 0"/><path class="k" d="M-43-100L-66-45M-43-100L0 0M0-100L-66-45M0-100L64-45M42-100L-33-45"/></g>
<g><text x="-22" y="-91">b</text><text x="15" y="-63">c</text><text x="14" y="-30">d</text><text x="-48" y="-11">a</text><text x="-27" y="-23">a</text><text x="26" y="-22">a</text><text x="45" y="-11">a</text></g>
<g id="n28-0"><use href="#r"/><text y="26">0</text></g>
<g id="n28-1"><use href="#s" x="31" y="-45"/><text x="44" y="-39">1</text></g>
<g id="n28-2"><use href="#s" x="64" y="-45"/><text x="77" y="-39">2</text></g>
<g id="n28-3"><use href="#s" x="42" y="-100"/><text x="42" y="-114">3</text></g>
<g id="n28-4"><use href="#c" x="-33" y="-45"/><text x="-46" y="-39">4</text></g>
<g id="n28-5"><use href="#c" x="-66" y="-45"/><text x="-78" y="-39">5</text></g>
<g id="n28-6"><use href="#c" x="-43" y="-100"/><text x="-43" y="-114">6</text></g>
<g id="n28-7"><use href="#c" y="-100"/><text y="-114">7</text></g>
<text class="ttl" x="0" y="62">ND3-8-28</text>
</g>

<!-- G29 -->
<g id="g29" transform="translate(767,1105)">
<g id="g29-edges"><path class="t" d="M-43-100L31-45M42-100L64-45M42-100L0 0M-66-45L0 0M-33-45L0 0M31-45L0 0M64-45L0 0"/><path class="k" d="M-43-100L-66-45M-43-100L-33-45M0-100L0 0M0-100L-66-45M42-100L-33-45"/></g>
<g><text x="-22" y="-91">b</text><text x="49" y="-62">c</text><text x="8" y="-20">d</text><text x="-48" y="-11">a</text><text x="-14" y="-22">a</text><text x="26" y="-22">a</text><text x="45" y="-11">a</text></g>
<g id="n29-0"><use href="#r"/><text y="26">0</text></g>
<g id="n29-1"><use href="#s" x="31" y="-45"/><text x="44" y="-39">1</text></g>
<g id="n29-2"><use href="#s" x="64" y="-45"/><text x="77" y="-39">2</text></g>
<g id="n29-3"><use href="#s" x="42" y="-100"/><text x="42" y="-114">3</text></g>
<g id="n29-4"><use href="#c" x="-33" y="-45"/><text x="-46" y="-39">4</text></g>
<g id="n29-5"><use href="#c" x="-66" y="-45"/><text x="-78" y="-39">5</text></g>
<g id="n29-6"><use href="#c" x="-43" y="-100"/><text x="-43" y="-114">6</text></g>
<g id="n29-7"><use href="#c" y="-100"/><text y="-114">7</text></g>
<text class="ttl" x="0" y="62">ND3-8-29</text>
</g>

<!-- G30 -->
<g id="g30" transform="translate(990,1105)">
<g id="g30-edges"><path class="t" d="M-43-100L-66-45M0-100L-66-45M42-100L64-45M-66-45L0 0M-33-45L0 0M31-45L0 0M64-45L0 0"/><path class="k" d="M-43-100L-33-45M-43-100L31-45M0-100L0 0M0-100L64-45M42-100L-33-45"/></g>
<g><text x="-62" y="-74">b</text><text x="50" y="-69">c</text><text x="-48" y="-11">a</text><text x="26" y="-22">a</text></g>
<g id="n30-0"><use href="#r"/><text y="26">0</text></g>
<g id="n30-1"><use href="#s" x="31" y="-45"/><text x="44" y="-39">1</text></g>
<g id="n30-2"><use href="#s" x="64" y="-45"/><text x="77" y="-39">2</text></g>
<g id="n30-3"><use href="#s" x="42" y="-100"/><text x="42" y="-114">3</text></g>
<g id="n30-4"><use href="#c" x="-33" y="-45"/><text x="-46" y="-39">4</text></g>
<g id="n30-5"><use href="#c" x="-66" y="-45"/><text x="-78" y="-39">5</text></g>
<g id="n30-6"><use href="#c" x="-43" y="-100"/><text x="-43" y="-114">6</text></g>
<g id="n30-7"><use href="#c" y="-100"/><text y="-114">7</text></g>
<text class="ttl" x="0" y="62">ND3-8-30</text>
</g>

<!-- G31 -->
<g id="g31" transform="translate(93,1305)">
<g id="g31-edges"><path class="t" d="M-43-100L0 0M0-100L-66-45M42-100L0 0M-66-45L0 0M-33-45L0 0M31-45L0 0M64-45L0 0"/><path class="k" d="M-43-100L-66-45M-43-100L31-45M0-100L-33-45M0-100L64-45M42-100L-33-45"/></g>
<g><text x="-20" y="-94">c</text><text x="-12" y="-39">b</text><text x="12" y="-39">b</text><text x="-47" y="-13">a</text><text x="-27" y="-23">a</text><text x="26" y="-23">a</text><text x="45" y="-13">a</text></g>
<g id="n31-0"><use href="#r"/><text y="26">0</text></g>
<g id="n31-1"><use href="#s" x="31" y="-45"/><text x="44" y="-39">1</text></g>
<g id="n31-2"><use href="#s" x="64" y="-45"/><text x="77" y="-39">2</text></g>
<g id="n31-3"><use href="#s" x="42" y="-100"/><text x="42" y="-114">3</text></g>
<g id="n31-4"><use href="#c" x="-33" y="-45"/><text x="-46" y="-39">4</text></g>
<g id="n31-5"><use href="#c" x="-66" y="-45"/><text x="-78" y="-39">5</text></g>
<g id="n31-6"><use href="#c" x="-43" y="-100"/><text x="-43" y="-114">6</text></g>
<g id="n31-7"><use href="#c" y="-100"/><text y="-114">7</text></g>
<text class="ttl" x="0" y="61">ND3-8-31</text>
</g>

<!-- G32 -->
<g id="g32" transform="translate(317.5,1305)">
<g id="g32-edges"><path class="t" d="M-43-100L0 0M0-100L-33-45M42-100L0 0M-66-45L0 0M-33-45L0 0M31-45L0 0M64-45L0 0"/><path class="k" d="M-43-100L-66-45M-43-100L31-45M0-100L-66-45M0-100L64-45M42-100L-33-45"/></g>
<g><text x="0" y="-77">c</text><text x="-12" y="-39">b</text><text x="12" y="-39">b</text><text x="-47" y="-13">a</text><text x="-27" y="-23">a</text><text x="26" y="-23">a</text><text x="45" y="-13">a</text></g>
<g id="n32-0"><use href="#r"/><text y="26">0</text></g>
<g id="n32-1"><use href="#s" x="31" y="-45"/><text x="44" y="-39">1</text></g>
<g id="n32-2"><use href="#s" x="64" y="-45"/><text x="77" y="-39">2</text></g>
<g id="n32-3"><use href="#s" x="42" y="-100"/><text x="42" y="-114">3</text></g>
<g id="n32-4"><use href="#c" x="-33" y="-45"/><text x="-46" y="-39">4</text></g>
<g id="n32-5"><use href="#c" x="-66" y="-45"/><text x="-78" y="-39">5</text></g>
<g id="n32-6"><use href="#c" x="-43" y="-100"/><text x="-43" y="-114">6</text></g>
<g id="n32-7"><use href="#c" y="-100"/><text y="-114">7</text></g>
<text class="ttl" x="0" y="61">ND3-8-32</text>
</g>

<!-- G33 -->
<g id="g33" transform="translate(536,1305)">
<g id="g33-edges"><path class="t" d="M-43-100L0 0M0-100L64-45M42-100L0 0M-66-45L0 0M-33-45L0 0M31-45L0 0M64-45L0 0"/><path class="k" d="M-43-100L-66-45M-43-100L31-45M0-100L-66-45M0-100L-33-45M42-100L-33-45"/></g>
<g><text x="48" y="-66">c</text><text x="-12" y="-39">b</text><text x="12" y="-39">b</text><text x="-47" y="-13">a</text><text x="-27" y="-23">a</text><text x="26" y="-23">a</text><text x="45" y="-13">a</text></g>
<g id="n33-0"><use href="#r"/><text y="26">0</text></g>
<g id="n33-1"><use href="#s" x="31" y="-45"/><text x="44" y="-39">1</text></g>
<g id="n33-2"><use href="#s" x="64" y="-45"/><text x="77" y="-39">2</text></g>
<g id="n33-3"><use href="#s" x="42" y="-100"/><text x="42" y="-114">3</text></g>
<g id="n33-4"><use href="#c" x="-33" y="-45"/><text x="-46" y="-39">4</text></g>
<g id="n33-5"><use href="#c" x="-66" y="-45"/><text x="-78" y="-39">5</text></g>
<g id="n33-6"><use href="#c" x="-43" y="-100"/><text x="-43" y="-114">6</text></g>
<g id="n33-7"><use href="#c" y="-100"/><text y="-114">7</text></g>
<text class="ttl" x="0" y="61">ND3-8-33</text>
</g>

<!-- G34 -->
<g id="g34" transform="translate(767,1305)">
<g id="g34-edges"><path class="t" d="M-43-100L64-45M0-100L0 0M42-100L0 0M-66-45L0 0M-33-45L0 0M31-45L0 0M64-45L0 0"/><path class="k" d="M-43-100L-66-45M-43-100L-33-45M-43-100L31-45M0-100L-66-45M42-100L-33-45"/></g>
<g><text x="46" y="-63">b</text><text x="-9.5" y="-44">c</text><text x="9.5" y="-44">c</text><text x="-47" y="-13">a</text><text x="-26" y="-23">a</text><text x="26" y="-23">a</text><text x="45" y="-13">a</text></g>
<g id="n34-0"><use href="#r"/><text y="26">0</text></g>
<g id="n34-1"><use href="#s" x="31" y="-45"/><text x="44" y="-39">1</text></g>
<g id="n34-2"><use href="#s" y="-100"/><text y="-114">2</text></g>
<g id="n34-3"><use href="#s" x="42" y="-100"/><text x="42" y="-114">3</text></g>
<g id="n34-4"><use href="#c" x="-33" y="-45"/><text x="-46" y="-39">4</text></g>
<g id="n34-5"><use href="#c" x="-66" y="-45"/><text x="-78" y="-39">5</text></g>
<g id="n34-6"><use href="#c" x="-43" y="-100"/><text x="-43" y="-114">6</text></g>
<g id="n34-7"><use href="#c" x="64" y="-45"/><text x="77" y="-39">7</text></g>
<text class="ttl" x="0" y="61">ND3-8-34</text>
</g>
</svg>
